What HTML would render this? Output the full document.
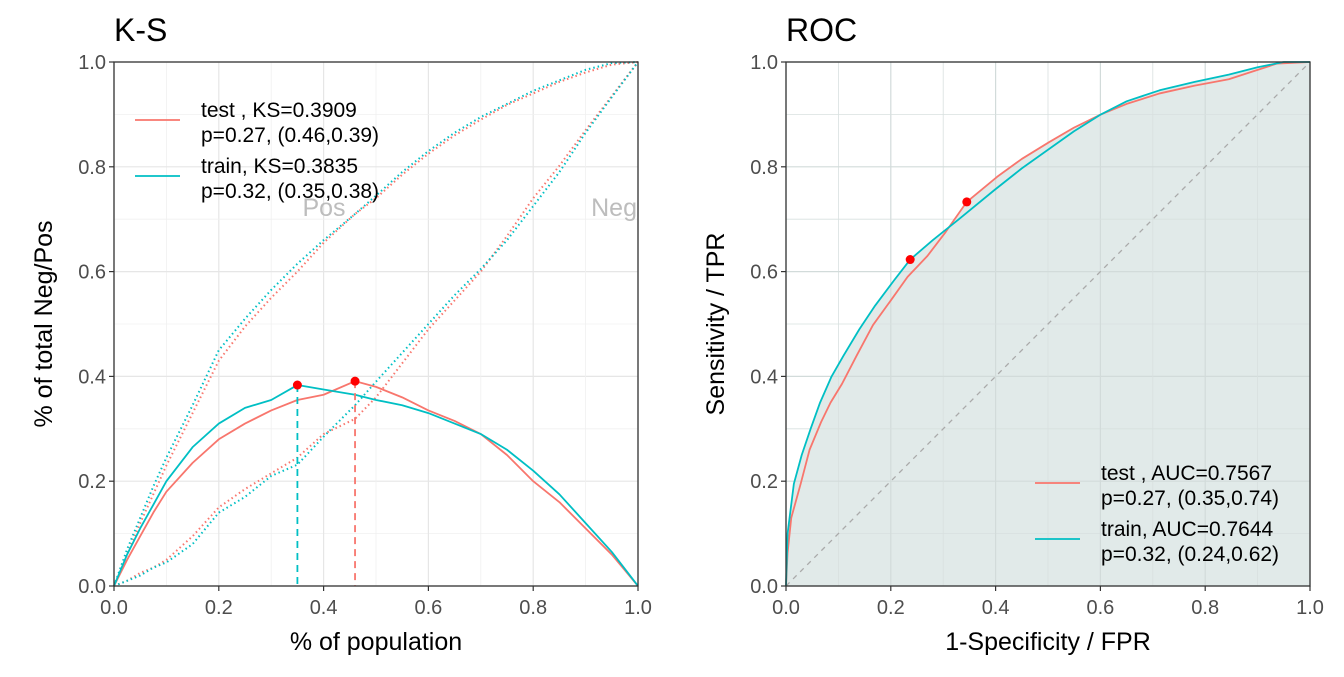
<!DOCTYPE html>
<html><head><meta charset="utf-8"><style>
body{margin:0;background:#fff}
svg text{font-family:"Liberation Sans",Arial,sans-serif}
</style></head><body>
<svg id="c" width="1344" height="672" viewBox="0 0 1344 672" xmlns="http://www.w3.org/2000/svg">
<rect width="1344" height="672" fill="#fff"/>
<g id="ks"></g>
<g id="roc"></g>
</svg>
<script>
const ksX=[0,0.025,0.05,0.075,0.1,0.15,0.2,0.25,0.3,0.35,0.4,0.46,0.5,0.55,0.6,0.65,0.7,0.75,0.8,0.85,0.9,0.95,1];
const posTrain=[0,0.07,0.13,0.19,0.245,0.345,0.45,0.51,0.565,0.615,0.66,0.71,0.745,0.79,0.83,0.865,0.895,0.92,0.945,0.965,0.985,0.998,1];
const posTest=[0,0.06,0.12,0.175,0.23,0.33,0.43,0.495,0.55,0.60,0.655,0.71,0.74,0.785,0.825,0.86,0.89,0.918,0.94,0.962,0.98,0.995,1];
const negTrain=[0,0.01,0.02,0.035,0.045,0.08,0.14,0.17,0.21,0.2315,0.285,0.345,0.39,0.445,0.5,0.555,0.605,0.66,0.725,0.79,0.865,0.933,1];
const negTest=[0,0.01,0.025,0.035,0.05,0.095,0.15,0.185,0.215,0.245,0.29,0.319,0.36,0.425,0.49,0.545,0.6,0.668,0.74,0.802,0.87,0.935,1];
const ksTrain=[0,0.06,0.11,0.155,0.2,0.265,0.31,0.34,0.355,0.3835,0.375,0.365,0.355,0.345,0.33,0.31,0.29,0.26,0.22,0.175,0.12,0.065,0];
const ksTest=[0,0.05,0.095,0.14,0.18,0.235,0.28,0.31,0.335,0.355,0.365,0.3909,0.38,0.36,0.335,0.315,0.29,0.25,0.2,0.16,0.11,0.06,0];
const ksPoints={train:[0.35,0.3835],test:[0.46,0.3909]};
const rocTrainX=[0,0.003,0.015,0.03,0.047,0.065,0.087,0.11,0.14,0.17,0.206,0.237,0.28,0.33,0.397,0.45,0.502,0.55,0.601,0.65,0.713,0.78,0.845,0.9,0.95,1];
const rocTrainY=[0,0.10,0.195,0.25,0.30,0.35,0.40,0.44,0.49,0.535,0.583,0.623,0.66,0.70,0.755,0.797,0.834,0.868,0.90,0.925,0.946,0.962,0.976,0.99,1,1];
const rocTestX=[0,0.003,0.01,0.028,0.045,0.067,0.085,0.107,0.135,0.166,0.2,0.232,0.27,0.305,0.345,0.403,0.45,0.502,0.55,0.601,0.65,0.713,0.78,0.845,0.9,0.937,1];
const rocTestY=[0,0.063,0.13,0.195,0.26,0.313,0.35,0.386,0.44,0.498,0.545,0.59,0.63,0.676,0.733,0.781,0.815,0.847,0.875,0.90,0.92,0.94,0.955,0.967,0.985,0.997,1];
const rocPoints={train:[0.237,0.623],test:[0.345,0.733]};
const ticks=[0,0.2,0.4,0.6,0.8,1.0];
const tickLabels=["0.0","0.2","0.4","0.6","0.8","1.0"];
const RED="#F8766D",TEAL="#00BFC4",NS="http://www.w3.org/2000/svg";
function mk(p,t,a){const e=document.createElementNS(NS,t);for(const k in a)e.setAttribute(k,a[k]);p.appendChild(e);return e;}
function panel(g,x0,title,xt,yt){
 const sx=v=>x0+v*524, sy=v=>586-v*524;
 return {sx,sy,setup(fill){
  if(fill)fill();
  for(let i=0;i<11;i++){const v=i/10;const c=fill?(i%2?"#d8e0df":"#d2dbda"):(i%2?"#f0f0f0":"#e6e6e6");
   const l1=mk(g,"line",{x1:sx(v),x2:sx(v),y1:62,y2:586,stroke:c,"stroke-width":i%2?0.8:1.2});
   
   const l2=mk(g,"line",{x1:x0,x2:x0+524,y1:sy(v),y2:sy(v),stroke:c,"stroke-width":i%2?0.8:1.2});
   }
 },axes(){
  const r=mk(g,"rect",{x:x0,y:62,width:524,height:524,fill:"none",stroke:"#333","stroke-width":1.3});
  
  ticks.forEach((v,i)=>{
   mk(g,"line",{x1:sx(v),x2:sx(v),y1:586,y2:591,stroke:"#333","stroke-width":1.2});
   mk(g,"line",{x1:x0-5,x2:x0,y1:sy(v),y2:sy(v),stroke:"#333","stroke-width":1.2});
   const a=mk(g,"text",{x:sx(v),y:614,"text-anchor":"middle","font-size":20,fill:"#4d4d4d"});a.textContent=tickLabels[i];
   
   const b=mk(g,"text",{x:x0-8,y:sy(v)+7,"text-anchor":"end","font-size":20,fill:"#4d4d4d"});b.textContent=tickLabels[i];
   
  });
  const t=mk(g,"text",{x:x0,y:41,"font-size":32});t.textContent=title;
  
  const xa=mk(g,"text",{x:x0+262,y:650,"text-anchor":"middle","font-size":25});xa.textContent=xt;
  
  const ya=mk(g,"text",{x:0,y:0,"text-anchor":"middle","font-size":25,transform:`translate(${x0-62},324) rotate(-90)`});ya.textContent=yt;
  
 }};
}
function line(g,sx,sy,X,Y,col,dash,name){
 const p=mk(g,"polyline",{points:X.map((x,i)=>sx(x)+","+sy(Y[i])).join(" "),fill:"none",stroke:col,"stroke-width":dash?2:1.8,"stroke-linejoin":"round"});
 if(dash)p.setAttribute("stroke-dasharray",dash);
 
 
}
function legend(g,x,y,col,l1,l2,name){
 const l=mk(g,"line",{x1:x,x2:x+45,y1:y,y2:y,stroke:col,"stroke-width":1.8});
 
 const t=mk(g,"text",{x:x+66,y:y-3,"font-size":21});t.textContent=l1;
 
 const u=mk(g,"text",{x:x+66,y:y+22,"font-size":21});u.textContent=l2;
 
}
// KS
const gk=document.getElementById("ks");
const K=panel(gk,114,"K-S","% of population","% of total Neg/Pos");
K.setup(null);
line(gk,K.sx,K.sy,ksX,posTest,RED,"1.5,3","pos-test-line");
line(gk,K.sx,K.sy,ksX,posTrain,TEAL,"1.5,3","pos-train-line");
line(gk,K.sx,K.sy,ksX,negTest,RED,"1.5,3","neg-test-line");
line(gk,K.sx,K.sy,ksX,negTrain,TEAL,"1.5,3","neg-train-line");
line(gk,K.sx,K.sy,ksX,ksTest,RED,null,"ks-test-line");
line(gk,K.sx,K.sy,ksX,ksTrain,TEAL,null,"ks-train-line");
[["train",TEAL],["test",RED]].forEach(([k,c])=>{
 const [x,y]=ksPoints[k];
 const d=mk(gk,"line",{x1:K.sx(x),x2:K.sx(x),y1:K.sy(y),y2:586,stroke:c,"stroke-width":1.8,"stroke-dasharray":"7,5"});
 
 const p=mk(gk,"circle",{cx:K.sx(x),cy:K.sy(y),r:4.5,fill:"#f00"});
 
});
const pt=mk(gk,"text",{x:324,y:216,"text-anchor":"middle","font-size":25,fill:"#bdbdbd"});pt.textContent="Pos";

const nt=mk(gk,"text",{x:637,y:216,"text-anchor":"end","font-size":25,fill:"#bdbdbd"});nt.textContent="Neg";

legend(gk,135,120,RED,"test , KS=0.3909","p=0.27, (0.46,0.39)","legend-test");
legend(gk,135,176,TEAL,"train, KS=0.3835","p=0.32, (0.35,0.38)","legend-train");
K.axes();
// ROC
const gr=document.getElementById("roc");
const R=panel(gr,786,"ROC","1-Specificity / FPR","Sensitivity / TPR");
R.setup(()=>{
 const pts=rocTrainX.map((x,i)=>R.sx(x)+","+R.sy(rocTrainY[i])).join(" ");
 const f=mk(gr,"polygon",{points:pts+" "+R.sx(1)+",586 "+R.sx(0)+",586",fill:"#e1eae9"});
 
 const pts2=rocTestX.map((x,i)=>R.sx(x)+","+R.sy(rocTestY[i])).join(" ");
 const f2=mk(gr,"polygon",{points:pts2+" "+R.sx(1)+",586 "+R.sx(0)+",586",fill:"#e1eae9"});
 
});
const dg=mk(gr,"line",{x1:R.sx(0),y1:R.sy(0),x2:R.sx(1),y2:R.sy(1),stroke:"#aaa","stroke-width":1.3,"stroke-dasharray":"5,5"});

line(gr,R.sx,R.sy,rocTestX,rocTestY,RED,null,"roc-test-line");
line(gr,R.sx,R.sy,rocTrainX,rocTrainY,TEAL,null,"roc-train-line");
[["train"],["test"]].forEach(([k])=>{
 const [x,y]=rocPoints[k];
 const p=mk(gr,"circle",{cx:R.sx(x),cy:R.sy(y),r:4.5,fill:"#f00"});
 
});
legend(gr,1035,483,RED,"test , AUC=0.7567","p=0.27, (0.35,0.74)","roc-legend-test");
legend(gr,1035,539,TEAL,"train, AUC=0.7644","p=0.32, (0.24,0.62)","roc-legend-train");
R.axes();
</script>
</body></html>
